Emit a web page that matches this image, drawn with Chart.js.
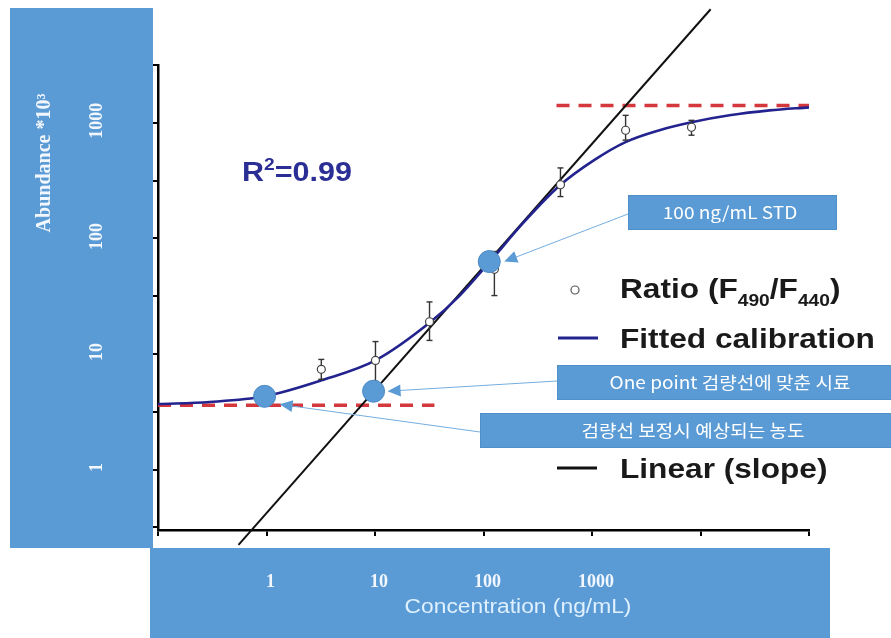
<!DOCTYPE html>
<html>
<head>
<meta charset="utf-8">
<script src="https://cdn.jsdelivr.net/npm/chart.js@4.4.1/dist/chart.umd.min.js"></script>
<style>
  html, body { margin: 0; padding: 0; background: #fff; }
  #wrap { width: 891px; height: 638px; }
</style>
</head>
<body>
<div id="wrap"><canvas id="calChart" width="891" height="638"></canvas></div>
<script>
// 1. data (log-log axes)
const xTicks = [0.1, 1, 10, 100, 1000, 10000, 100000];
const xTickLabels = ['', '1', '10', '100', '1000', '', ''];
const yTicks = [0.3162, 1, 3.162, 10, 31.62, 100, 316.2, 1000, 3162];
const yTickLabels = ['', '1', '', '10', '', '100', '', '1000', ''];

// Ratio (F490/F440) measurements with error bars
const ratioX = [3.2, 10.1, 31.8, 126, 512, 2040, 8260];
const ratioY = [7.36, 8.8, 19.0, 54, 291, 862, 915];
const ratioLow = [6.04, 5.8, 13.1, 32, 230, 708, 781];
const ratioHigh = [8.97, 12.8, 28.2, 77, 407, 1160, 1050];

// fitted calibration curve
const fitX = [0.1, 0.3, 0.96, 3.21, 10.1, 31.8, 60, 113, 239, 501, 1054, 2037, 4190, 8260, 18500, 43300, 100000];
const fitY = [3.69, 3.84, 4.3, 5.92, 8.8, 18.6, 31.8, 62, 140, 285, 477, 680, 862, 1010, 1160, 1280, 1360];

// linear (slope) line
const linearX = [0.552, 12400];
const linearY = [0.223, 9600];

// highlighted samples (1, 10, 100 ng/mL)
const sampleX = [0.96, 9.7, 113];
const sampleY = [4.3, 4.76, 63];

// plateau levels (red dashed)
const lowLevelX = [0.1, 35.3];
const lowLevelY = [3.6, 3.6];
const highLevelX = [471, 100000];
const highLevelY = [1410, 1410];

const BAND = '#5b9bd5';
const pts = (xs, ys) => xs.map((v, i) => ({ x: v, y: ys[i] }));

// error bars: one tiny line dataset each, caps drawn with pointStyle 'line'
const errorSets = ratioX.map((v, i) => ({
  data: [{ x: v, y: ratioLow[i] }, { x: v, y: ratioHigh[i] }],
  borderColor: '#333', borderWidth: 1.4,
  pointStyle: 'line', pointRadius: 3, pointBorderColor: '#333', pointBorderWidth: 1.4,
  showLine: true
}));

// helper: text with a slight horizontal stretch (the source is stretched)
function stretchText(ctx, s, x, y, font, color, align, sx) {
  ctx.save();
  ctx.font = font;
  ctx.fillStyle = color;
  ctx.textBaseline = 'alphabetic';
  const w = ctx.measureText(s).width * sx;
  let x0 = x;
  if (align === 'center') x0 = x - w / 2;
  if (align === 'right') x0 = x - w;
  ctx.translate(x0, y);
  ctx.scale(sx, 1);
  ctx.fillText(s, 0, 0);
  ctx.restore();
  return w;
}

function arrow(ctx, x1, y1, x2, y2) {
  const a = Math.atan2(y2 - y1, x2 - x1);
  ctx.save();
  ctx.strokeStyle = '#74aee0';
  ctx.lineWidth = 1;
  ctx.beginPath();
  ctx.moveTo(x1, y1);
  ctx.lineTo(x2 - 8 * Math.cos(a), y2 - 8 * Math.sin(a));
  ctx.stroke();
  ctx.fillStyle = BAND;
  ctx.beginPath();
  ctx.moveTo(x2, y2);
  ctx.lineTo(x2 - 13 * Math.cos(a) + 6 * Math.sin(a), y2 - 13 * Math.sin(a) - 6 * Math.cos(a));
  ctx.lineTo(x2 - 13 * Math.cos(a) - 6 * Math.sin(a), y2 - 13 * Math.sin(a) + 6 * Math.cos(a));
  ctx.closePath();
  ctx.fill();
  ctx.restore();
}

function noteBox(ctx, x, y, w, h, s, tx) {
  ctx.save();
  ctx.fillStyle = BAND;
  ctx.fillRect(x, y, w, h);
  ctx.strokeStyle = '#4f8fca';
  ctx.lineWidth = 1;
  ctx.strokeRect(x + 0.5, y + 0.5, w - 1, h - 1);
  ctx.restore();
  stretchText(ctx, s, tx, y + h / 2 + 6, '17px "Noto Sans CJK KR"', '#ffffff', 'center', 1.12);
}

const decorPlugin = {
  id: 'decor',
  beforeDraw(chart) {
    const c = chart.ctx;
    c.save();
    c.fillStyle = '#ffffff';
    c.fillRect(0, 0, chart.width, chart.height);
    c.restore();
  },
  afterDatasetsDraw(chart) {
    const { ctx, scales: { x, y } } = chart;
    ctx.save();
    ctx.fillStyle = BAND;
    ctx.fillRect(10, 8, 143, 540);
    ctx.fillRect(150, 548, 680, 90);

    // y tick labels, rotated, inside the left band
    ctx.fillStyle = '#f2f7fd';
    ctx.font = 'bold 18px "Liberation Serif"';
    ctx.textAlign = 'center';
    ctx.textBaseline = 'middle';
    yTicks.forEach((v, i) => {
      if (!yTickLabels[i]) return;
      ctx.save();
      ctx.translate(97, y.getPixelForValue(v) - 2);
      ctx.rotate(-Math.PI / 2);
      ctx.fillText(yTickLabels[i], 0, 0);
      ctx.restore();
    });
    ctx.save();
    ctx.translate(45, 163);
    ctx.rotate(-Math.PI / 2);
    ctx.font = 'bold 20px "Liberation Serif"';
    ctx.fillText('Abundance *10³', 0, 0);
    ctx.restore();

    // x tick labels inside the bottom band
    ctx.font = 'bold 18px "Liberation Serif"';
    xTicks.forEach((v, i) => {
      if (!xTickLabels[i]) return;
      ctx.fillText(xTickLabels[i], x.getPixelForValue(v) + 4, 582);
    });
    ctx.restore();
    stretchText(ctx, 'Concentration (ng/mL)', 518, 613, '20px "Liberation Sans"', '#dff0ff', 'center', 1.14);
  },
  afterDraw(chart) {
    const { ctx, scales: { x, y } } = chart;
    const sx = sampleX.map(v => x.getPixelForValue(v));
    const sy = sampleY.map(v => y.getPixelForValue(v));

    // R squared with a real superscript
    const rc = '#2b2e94', rk = 1.13;
    let rx = 242;
    rx += stretchText(ctx, 'R', rx, 181, 'bold 27px "Liberation Sans"', rc, 'left', rk);
    rx += stretchText(ctx, '2', rx, 170, 'bold 17px "Liberation Sans"', rc, 'left', rk);
    stretchText(ctx, '=0.99', rx, 181, 'bold 27px "Liberation Sans"', rc, 'left', rk);

    // callout boxes and arrows
    noteBox(ctx, 628, 195, 209, 35, '100 ng/mL STD', 730);
    noteBox(ctx, 557, 365, 340, 35, 'One point 검량선에 맞춘 시료', 730);
    noteBox(ctx, 480, 413, 420, 35, '검량선 보정시 예상되는 농도', 693);
    arrow(ctx, 628, 214, sx[2] + 15, sy[2]);
    arrow(ctx, 557, 381, sx[1] + 14, sy[1]);
    arrow(ctx, 480, 432, sx[0] + 15, sy[0] + 8);

    // legend
    const f = 'bold 28px "Liberation Sans"', fs = 'bold 17px "Liberation Sans"', col = '#1a1a1a', k = 1.13;
    ctx.save();
    ctx.fillStyle = '#fff';
    ctx.strokeStyle = '#555';
    ctx.lineWidth = 1.2;
    ctx.beginPath();
    ctx.arc(575, 290, 4, 0, Math.PI * 2);
    ctx.fill();
    ctx.stroke();
    ctx.lineWidth = 3;
    ctx.strokeStyle = '#23238f';
    ctx.beginPath(); ctx.moveTo(558, 338); ctx.lineTo(598, 338); ctx.stroke();
    ctx.strokeStyle = '#111';
    ctx.beginPath(); ctx.moveTo(557, 468); ctx.lineTo(597, 468); ctx.stroke();
    ctx.restore();

    let lx = 620;
    lx += stretchText(ctx, 'Ratio (F', lx, 298, f, col, 'left', k);
    lx += stretchText(ctx, '490', lx, 306, fs, col, 'left', k);
    lx += stretchText(ctx, '/F', lx, 298, f, col, 'left', k);
    lx += stretchText(ctx, '440', lx, 306, fs, col, 'left', k);
    stretchText(ctx, ')', lx, 298, f, col, 'left', k);
    stretchText(ctx, 'Fitted calibration', 620, 348, f, col, 'left', k);
    stretchText(ctx, 'Linear (slope)', 620, 478, f, col, 'left', k);
  }
};

const ctx = document.getElementById('calChart').getContext('2d');

const calChart = new Chart(ctx, {
  type: 'line',
  data: {
    datasets: [
      { label: 'Samples', data: pts(sampleX, sampleY), showLine: false,
        pointRadius: 11, backgroundColor: BAND, borderColor: '#4a89c6', borderWidth: 1 },
      { label: 'Ratio (F490/F440)', data: pts(ratioX, ratioY), showLine: false,
        pointRadius: 4, backgroundColor: '#fff', borderColor: '#444', borderWidth: 1.2 },
      ...errorSets,
      { label: 'Fitted calibration', data: pts(fitX, fitY), borderColor: '#23238f', borderWidth: 2.6,
        pointRadius: 0, cubicInterpolationMode: 'monotone' },
      { label: 'Linear (slope)', data: pts(linearX, linearY), borderColor: '#111', borderWidth: 2,
        pointRadius: 0, clip: false },
      { label: 'low', data: pts(lowLevelX, lowLevelY), borderColor: '#d4373c', borderWidth: 3.5,
        borderDash: [13, 9], pointRadius: 0 },
      { label: 'high', data: pts(highLevelX, highLevelY), borderColor: '#d4373c', borderWidth: 3.5,
        borderDash: [13, 9], pointRadius: 0 }
    ]
  },
  options: {
    responsive: false,
    animation: false,
    layout: { padding: { left: 152, right: 82, top: 65, bottom: 102 } },
    plugins: { legend: { display: false }, tooltip: { enabled: false } },
    scales: {
      x: {
        type: 'logarithmic', min: 0.1, max: 100000, z: 1,
        afterBuildTicks: s => { s.ticks = xTicks.map(v => ({ value: v })); },
        ticks: { display: false },
        grid: { drawOnChartArea: false, color: '#000', lineWidth: 2, tickLength: 6 },
        border: { color: '#000', width: 2.5 }
      },
      y: {
        type: 'logarithmic', min: 0.3162, max: 3162, z: 1,
        afterBuildTicks: s => { s.ticks = yTicks.map(v => ({ value: v })); },
        ticks: { display: false },
        grid: { drawOnChartArea: false, color: '#000', lineWidth: 2, tickLength: 6 },
        border: { color: '#000', width: 2.5 }
      }
    }
  },
  plugins: [decorPlugin]
});
</script>
</body>
</html>
